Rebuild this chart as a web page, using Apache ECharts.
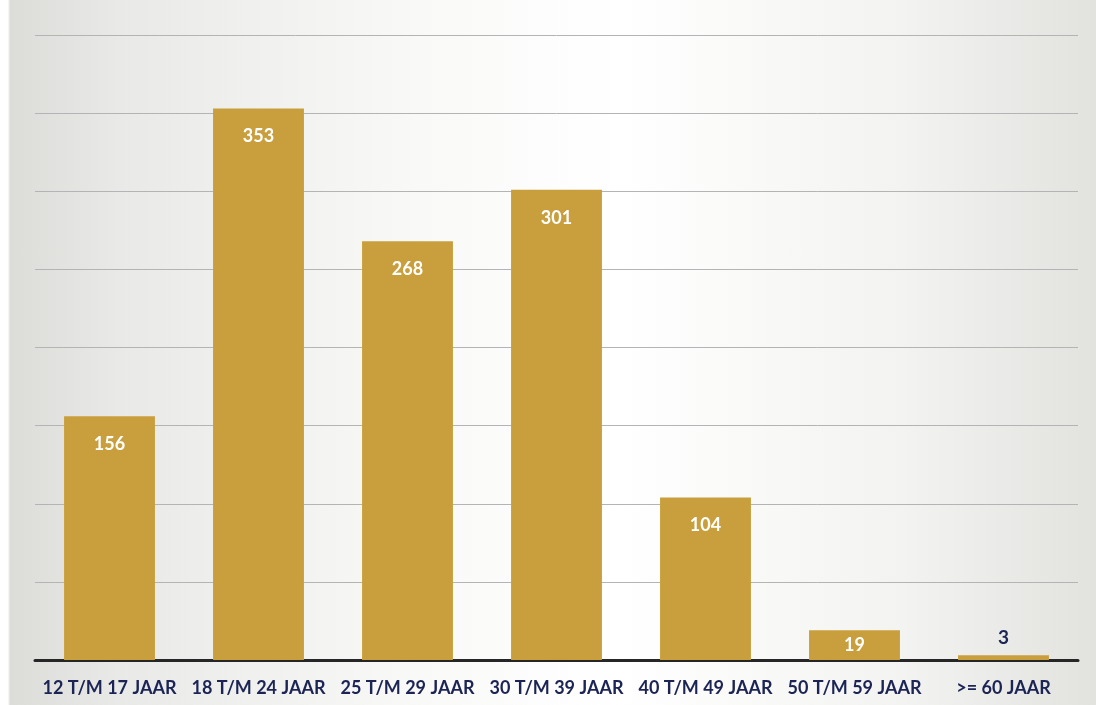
<!DOCTYPE html>
<html>
<head>
<meta charset="utf-8">
<script src="https://cdn.jsdelivr.net/npm/echarts@6/dist/echarts.min.js"></script>
<style>
  html, body { margin: 0; padding: 0; }
  body {
    width: 1096px; height: 705px;
    background: linear-gradient(90deg, #ffffff 0px, #ffffff 8px, #dcdcd9 10px, #e9e9e7 120px, #f9f9f8 420px, #ffffff 620px, #f3f3f1 900px, #e2e2df 1096px);
  }
  #chart { width: 1096px; height: 705px; }
</style>
</head>
<body>
<div id="chart"></div>
<script>
// leeftijdsgroepen
const categories = ['12 T/M 17 JAAR', '18 T/M 24 JAAR', '25 T/M 29 JAAR', '30 T/M 39 JAAR', '40 T/M 49 JAAR', '50 T/M 59 JAAR', '>= 60 JAAR']
const values = [156, 353, 268, 301, 104, 19, 3]
const yMax = 400
const yStep = 50

const chart = echarts.init(document.getElementById('chart'))

const barData = values.map((v) => {
  // heel kleine balk: label boven de balk in donkerblauw
  if (v < 10) {
    return {
      value: v,
      label: { position: 'top', distance: 8, color: '#1b2454', fontSize: 19 }
    }
  }
  // lage balk: label in het midden
  if (v < 40) {
    return { value: v, label: { position: 'inside' } }
  }
  return v
})

const option = {
  backgroundColor: 'transparent',
  animation: false,
  grid: {
    left: 35,
    right: 18,
    top: 35,
    bottom: 45,
    containLabel: false
  },
  xAxis: {
    type: 'category',
    data: categories,
    axisLine: { show: true, lineStyle: { color: '#262626', width: 3 } },
    axisTick: { show: false },
    axisLabel: {
      color: '#1b2454',
      fontFamily: 'Lato',
      fontWeight: 'bold',
      fontSize: 18,
      margin: 19,
      interval: 0
    }
  },
  yAxis: {
    type: 'value',
    min: 0,
    max: yMax,
    interval: yStep,
    axisLine: { show: false },
    axisTick: { show: false },
    axisLabel: { show: false },
    splitLine: { lineStyle: { color: '#b4b4b4', width: 1 } }
  },
  series: [
    {
      type: 'bar',
      data: barData,
      barWidth: '61%',
      itemStyle: { color: '#c89f3c' },
      label: {
        show: true,
        position: 'insideTop',
        distance: 19,
        color: '#ffffff',
        fontFamily: 'Lato',
        fontWeight: 'bold',
        fontSize: 18
      }
    }
  ]
}

chart.setOption(option)
</script>
</body>
</html>
